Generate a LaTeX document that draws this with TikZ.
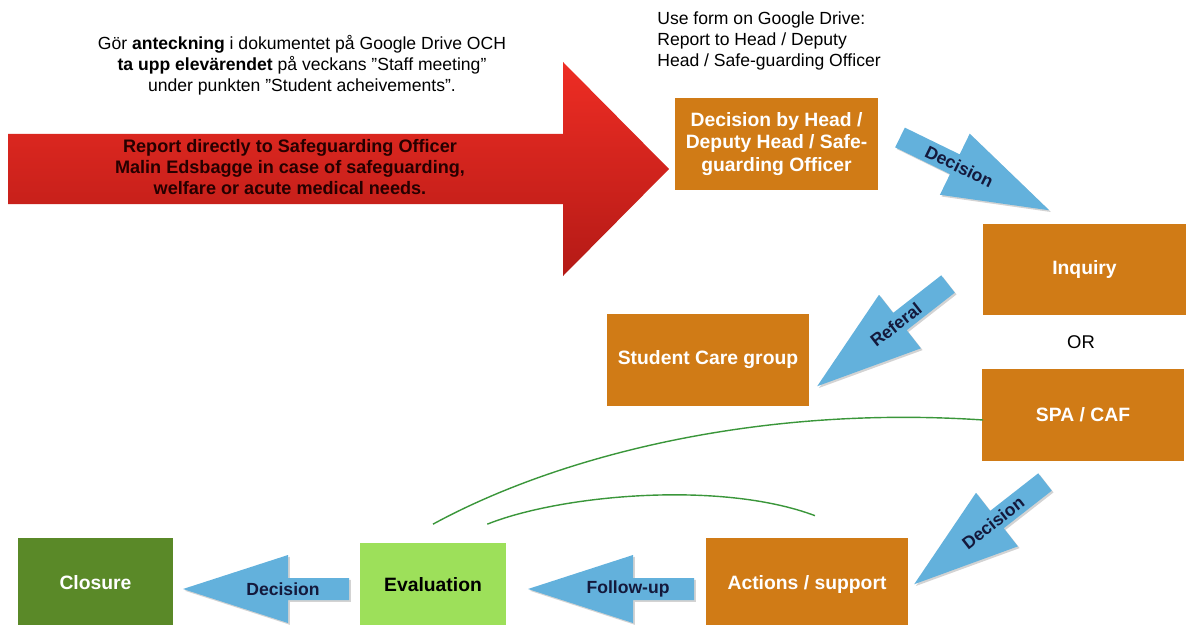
\documentclass[tikz,border=0pt]{standalone}
\usepackage{fontspec}
\setmainfont{Liberation Sans}
\usetikzlibrary{positioning,calc,shadows}

\definecolor{boxorange}{RGB}{208,123,22}
\definecolor{evalgreen}{RGB}{157,224,90}
\definecolor{closegreen}{RGB}{90,137,40}
\definecolor{arrowblue}{RGB}{99,177,220}
\definecolor{redtop}{RGB}{238,45,36}
\definecolor{redbottom}{RGB}{180,26,22}
\definecolor{linegreen}{RGB}{58,150,58}
\definecolor{textnavy}{RGB}{20,25,60}

\tikzset{
  stepbox/.style={fill=boxorange, text=white, font=\bfseries\fontsize{11}{13}\selectfont,
    minimum width=4.06cm, minimum height=1.84cm, align=center, inner sep=2pt},
  note/.style={font=\fontsize{10}{12}\selectfont, text=black, inner sep=0pt},
  arrowlabel/.style={font=\bfseries\fontsize{10}{12}\selectfont, text=textnavy, inner sep=0pt},
  loopline/.style={linegreen, line width=0.8pt},
  pics/flowarrow/.style n args={2}{code={
    \fill[arrowblue, drop shadow={opacity=.35, shadow xshift=1pt, shadow yshift=-1pt}]
      (0,-11) -- (61,-11) -- (61,-34) -- (166,0) -- (61,34) -- (61,11) -- (0,11) -- cycle;
    \node[arrowlabel, rotate=#1] (-label) at (66,0) {#2};
  }},
}

\begin{document}
\begin{tikzpicture}[x=0.02cm, y=-0.02cm]
  \path[use as bounding box, clip] (0,0) rectangle (1187,625);

  % Notes on top
  \node[note, align=center] (gdrive) at (302,65)
    {Gör \textbf{anteckning} i dokumentet på Google Drive OCH\\
     \textbf{ta upp elevärendet} på veckans ”Staff meeting”\\
     under punkten ”Student acheivements”.};
  \node[note, align=left, anchor=north west] (form) at (657,11)
    {Use form on Google Drive:\\Report to Head / Deputy\\Head / Safe-guarding Officer};

  % Red arrow
  \shade[top color=redtop, bottom color=redbottom]
    (8,134) -- (563,134) -- (563,62) -- (669,169) -- (563,276) -- (563,204) -- (8,204) -- cycle;
  \node[align=center, font=\bfseries\fontsize{10.3}{12.2}\selectfont, text=black!85!red, inner sep=0pt] (report) at (290,167)
    {Report directly to Safeguarding Officer\\Malin Edsbagge in case of safeguarding,\\welfare or acute medical needs.};

  % Boxes
  \node[stepbox] (decision) at (776.5,144) {Decision by Head /\\Deputy Head / Safe-\\guarding Officer};
  \node[stepbox] (inquiry) at (1084.5,269.5) {Inquiry};
  \node[note, font=\fontsize{10.5}{12}\selectfont] (or) at (1081,342) {OR};
  \node[stepbox] (spa) at (1083,415) {SPA / CAF};
  \node[stepbox] (care) at (708,360) {Student Care group};
  \node[stepbox] (actions) at (807,584) {Actions / support};
  \node[stepbox, fill=evalgreen, text=black, minimum width=2.92cm, minimum height=1.7cm] (eval) at (433,585) {Evaluation};
  \node[stepbox, fill=closegreen, minimum width=3.1cm, minimum height=1.8cm] (closure) at (95.5,583) {Closure};

  % Blue arrows
  \pic[rotate=-26] (dec1) at (900,137.5) {flowarrow={-26}{Decision}};
  \pic[rotate=218] (ref) at (948,284) {flowarrow={38}{Referal}};
  \pic[rotate=218] (dec2) at (1045,482) {flowarrow={38}{Decision}};
  \pic[rotate=180] (fol) at (694,589) {flowarrow={0}{Follow-up}};
  \pic[rotate=180] (dec3) at (349,589) {flowarrow={0}{Decision}};

  % Green lines back from evaluation
  \coordinate (e1) at ($(eval.north)+(0,-18)$);
  \coordinate (e2) at ($(eval.north east)+(-19,-18)$);
  \coordinate (a1) at ($(actions.north)+(8,-22)$);
  \draw[loopline] (e1) .. controls (560,455) and (760,405) .. ($(spa.west)+(2,5)$);
  \draw[loopline] (e2) .. controls (560,495) and (720,480) .. (a1);
\end{tikzpicture}
\end{document}
